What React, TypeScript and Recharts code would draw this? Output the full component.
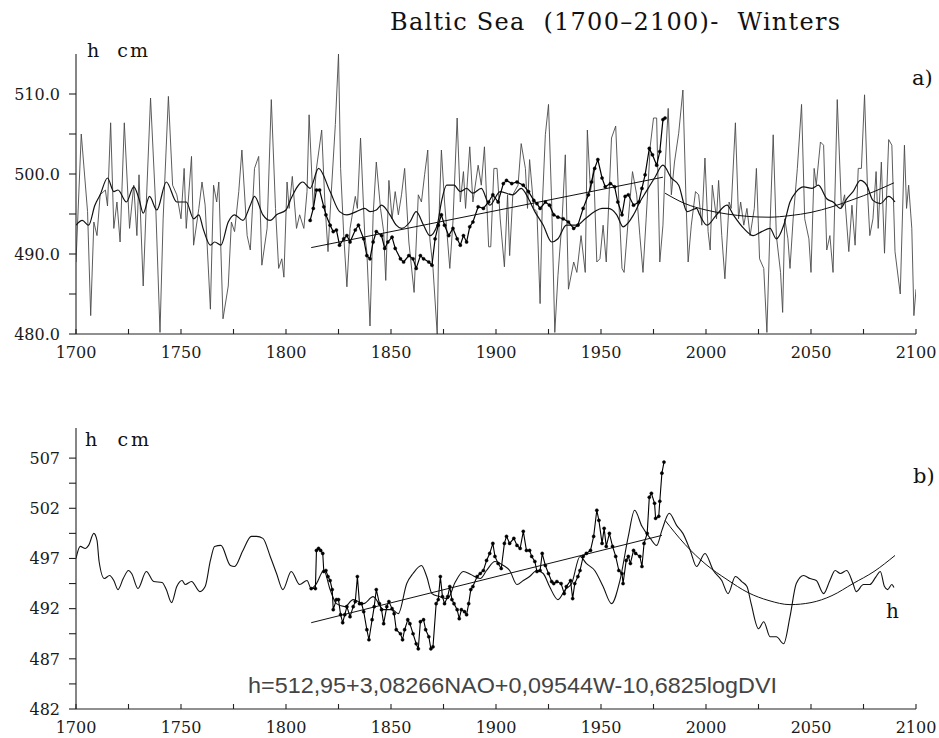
import React from 'react';
import { LineChart, Line, XAxis, YAxis } from 'recharts';

// x-axis years and tick labels
const yearTicks = [1700, 1725, 1750, 1775, 1800, 1825, 1850, 1875, 1900, 1925, 1950, 1975, 2000, 2025, 2050, 2075, 2100];
const hTicksA = [480, 485, 490, 495, 500, 505, 510];
const hTicksB = [482, 484.5, 487, 489.5, 492, 494.5, 497, 499.5, 502, 504.5, 507];

// panel a) - modelled winter sea level, yearly values [year, h cm]
const annualA = [
  [1700, 489], [1702.5, 505], [1705.5, 495.3], [1707, 482.3], [1708.5, 494], [1710, 492.3], [1711.5, 497.4], [1714, 498],
  [1715, 496], [1716.5, 506.4], [1718, 493.2], [1719.5, 496.5], [1721, 491.5], [1723, 506.4], [1725.5, 493.2], [1727.5, 498.6],
  [1729, 492.3], [1730, 499.9], [1732, 486], [1733.5, 496.5], [1735.5, 509.5], [1738, 495.7], [1740, 480.2], [1741.5, 494.4],
  [1744, 509.7], [1746, 498.6], [1748, 497.4], [1750, 494.4], [1751.5, 500.7], [1752.5, 493.2], [1755, 502.2], [1756, 491.1],
  [1758.5, 495.7], [1760, 499], [1761.5, 496.1], [1764, 483.1], [1765.5, 498.6], [1767, 496.5], [1768, 499], [1770, 481.9],
  [1772.5, 486], [1774, 494], [1775.5, 492.8], [1777.5, 497.8], [1779, 503], [1780.5, 496.5], [1781.5, 492.3], [1783, 490.5],
  [1785, 500.7], [1787, 502.2], [1788.5, 488.6], [1791, 493.2], [1793, 509.3], [1795, 495.7], [1796.5, 488.2], [1798, 489.4],
  [1799, 487.1], [1800.5, 499], [1801.5, 495.7], [1803, 499.7], [1805, 493.2], [1806.5, 494.9], [1808.5, 493.2], [1810, 497.8],
  [1811, 507.4], [1813, 495.7], [1814.5, 500.7], [1817, 505.5], [1818.5, 496.5], [1820, 490.3], [1821.5, 497.4], [1823.5, 506.2],
  [1825, 515], [1826, 500.7], [1827.5, 492.3], [1829, 485.9], [1830.5, 493.2], [1833, 497.2], [1834, 495.7], [1835.5, 504.5],
  [1837.5, 492.3], [1838.5, 490.3], [1840, 481], [1841.5, 494.9], [1843, 501.5], [1845, 495.7], [1846.5, 492.8], [1847.5, 486.7],
  [1849, 499.2], [1850.5, 494.4], [1852, 497.8], [1853.5, 494.9], [1855, 497.4], [1856.5, 500.7], [1858.5, 491.5], [1859.5, 489],
  [1861, 485.2], [1863, 497.4], [1864.5, 496.5], [1866, 499.9], [1867.5, 503], [1868.5, 491.9], [1870, 488.2], [1872, 480],
  [1873, 495.7], [1874, 503], [1875.5, 496.5], [1878, 488.2], [1879.5, 494], [1881.5, 507], [1883, 496.5], [1884.5, 500.3],
  [1885.5, 495.7], [1887.5, 503.4], [1889, 496.5], [1891.5, 501.1], [1893, 498.6], [1894.5, 503.4], [1896.5, 490.9], [1897.5, 490.9],
  [1899, 500.7], [1900.5, 500.7], [1902, 494.4], [1904, 488.4], [1905.5, 497.4], [1906.5, 489.8], [1908, 497.4], [1910.5, 498.6],
  [1912, 503.8], [1914, 500.7], [1915, 495.7], [1916, 501.8], [1918, 495.7], [1919.5, 495.3], [1921, 483.8], [1922, 495.7],
  [1923.5, 504.9], [1925, 508.7], [1926.5, 496.5], [1928, 480.2], [1929.5, 487.3], [1931.5, 494.4], [1933, 502.4], [1934.5, 485.6],
  [1937, 489], [1938.5, 487.7], [1940.5, 492.3], [1942.5, 487.7], [1943.5, 505.5], [1945, 497.8], [1946.5, 500.7], [1948, 489],
  [1949.5, 489.4], [1951, 493.6], [1952.5, 489], [1955, 504.5], [1957, 506], [1958.5, 496.5], [1960, 488.2], [1961, 487.7],
  [1963, 494.4], [1965, 500.3], [1967, 497.4], [1968.5, 492.3], [1970, 487.7], [1971.5, 494.4], [1973.5, 503.6], [1975, 507],
  [1976.5, 507], [1978, 489], [1979.5, 493.6], [1980.5, 500.7], [1982, 508.2], [1983.5, 497.4], [1985, 501.5], [1987, 505.1],
  [1989, 510.5], [1990.5, 496.5], [1991.5, 489], [1993, 493.6], [1995, 497.8], [1996.5, 497.4], [1998, 493.6], [1999.5, 502],
  [2001, 492.8], [2002, 490.5], [2003, 498.6], [2005, 494.4], [2006, 499.2], [2007.5, 492.3], [2009, 486.9], [2011, 496.5],
  [2012, 495.7], [2014, 506.4], [2015.5, 494.4], [2016.5, 496.5], [2018, 493.6], [2019.5, 495.7], [2021, 492.3], [2023, 495.7],
  [2024, 500.7], [2025.5, 489.4], [2027.5, 488.2], [2029, 480.2], [2030.5, 493.6], [2032, 504.9], [2033.5, 492.3], [2035.5, 487.7],
  [2036.5, 482.7], [2037.5, 494.4], [2039, 491.9], [2040, 488.2], [2041.5, 494.4], [2043.5, 500.7], [2045.5, 508.7], [2047, 494.4],
  [2049, 491.9], [2050, 487.7], [2051.5, 500.7], [2052.5, 498.6], [2054.5, 504], [2056, 503.6], [2057.5, 490.5], [2059, 492.3],
  [2060.5, 487.7], [2062.5, 509.3], [2064.5, 495.7], [2066, 497.4], [2068, 490.3], [2069.5, 496.1], [2071, 491.1], [2072.5, 500.7],
  [2074, 500.7], [2075.5, 509.9], [2077, 497.4], [2078, 492.3], [2079.5, 494.4], [2081, 500.3], [2082, 493.2], [2083.5, 501.5],
  [2085, 490.1], [2087, 504.3], [2088.5, 503.6], [2090, 490.3], [2092.5, 485], [2094.5, 503.6], [2095.5, 495.7], [2096.5, 498.6],
  [2098, 493.2], [2099, 482.3], [2100, 485.6],
];

// panel a) - smoothed model curve
const smoothA = [
  [1700, 493.6], [1703, 494.2], [1706, 493.6], [1709, 496.1], [1711.5, 497.4], [1715, 499.5], [1718, 497.8], [1720, 498],
  [1724, 496.5], [1727.5, 498.4], [1730, 496.9], [1732, 495.1], [1735, 497.2], [1738.5, 495.5], [1743, 499], [1748, 496.5],
  [1752.5, 496.5], [1756, 494.4], [1758.5, 494.9], [1760.5, 493.2], [1764, 491.1], [1766, 491.5], [1769, 491.1], [1772.5, 494],
  [1775.5, 494.9], [1779.5, 494.2], [1783, 496.1], [1785, 497.2], [1789, 494.9], [1792.5, 494.2], [1795.5, 494.9], [1800, 495.5],
  [1802, 496.7], [1808, 499], [1811.5, 498.2], [1815.5, 500.7], [1821, 497.8], [1825.5, 495.3], [1829, 494.9], [1833.5, 495.3],
  [1837.5, 495.7], [1840, 495.3], [1843, 495.5], [1845.5, 496.1], [1849.5, 494.9], [1852.5, 493.6], [1855, 493.2], [1859, 494],
  [1862, 495.3], [1865.5, 493.6], [1868.5, 492.3], [1872, 493.6], [1874, 496.5], [1876.5, 498.6], [1880, 498.6], [1883, 497.8],
  [1886, 498.2], [1889, 497.6], [1893, 498.2], [1897, 496.1], [1902, 497.8], [1908, 497.4], [1912, 498.2], [1915.5, 496.9],
  [1918.5, 495.3], [1922.5, 493.6], [1926.5, 491.5], [1929.5, 491.9], [1933.5, 493.6], [1938.5, 493.6], [1942.5, 494.4], [1947, 495.3],
  [1950.5, 495.7], [1953.5, 495.7], [1957.5, 494.9], [1960.5, 493.4], [1965.5, 494.9], [1968.5, 496.5], [1971.5, 497.8], [1975.5, 499.5],
  [1979.5, 501.1], [1983.5, 499.5], [1987, 498.6], [1991, 495.3], [1995.5, 495.7], [1997, 494.9], [2000.5, 493.6], [2005, 494.9],
  [2010, 496.1], [2013, 494.9], [2018, 493.2], [2022.5, 492.3], [2026.5, 492.8], [2030.5, 493.2], [2033.5, 491.9], [2037, 493.6],
  [2040, 496.5], [2043, 497.8], [2046.5, 498.4], [2050.5, 498.2], [2053.5, 498.6], [2057.5, 496.9], [2060.5, 496.5], [2064, 495.7],
  [2067, 496.9], [2070, 497.8], [2073.5, 499.2], [2076.5, 498.6], [2079.5, 496.7], [2083, 496.3], [2087, 497.2], [2090, 496.5],
];

// panel a) - observed series (dots)
const observedA = [
  [1811.5, 494.2], [1813, 495.7], [1814.5, 498], [1816, 498], [1818, 495.9], [1819, 494.9], [1821, 493.6], [1822.5, 492.8],
  [1824, 493], [1825.5, 491.1], [1827.5, 491.9], [1829, 492.3], [1830.5, 491.5], [1833, 493], [1834.5, 493.6], [1837, 491.9],
  [1838.5, 489.8], [1840, 489.4], [1841.5, 491.5], [1843, 492.8], [1845.5, 492.3], [1847, 490.7], [1848.5, 491.5], [1850.5, 492.1],
  [1852, 490.7], [1854.5, 489.4], [1856, 489], [1858.5, 489.8], [1860.5, 489.4], [1862, 488.2], [1864, 489.8], [1865.5, 489.4],
  [1868, 489], [1869.5, 488.6], [1871, 491.9], [1872.5, 493.6], [1874, 494.9], [1875.5, 493.6], [1877.5, 492.3], [1879.5, 493.2],
  [1881.5, 491.9], [1883, 491.1], [1884.5, 492.3], [1886, 491.5], [1887.5, 493.4], [1889, 494], [1891.5, 495.9], [1894, 495.7],
  [1896.5, 496.5], [1898.5, 497.4], [1901, 496.5], [1903.5, 498.8], [1905, 499.2], [1907.5, 498.8], [1910, 499], [1913, 498.6],
  [1915.5, 497.8], [1918, 496.7], [1919.5, 496.3], [1921, 495.7], [1923.5, 496.5], [1925.5, 496.1], [1927.5, 494.9], [1929.5, 494.6],
  [1932, 494.4], [1934.5, 494], [1937, 493.2], [1939, 493.6], [1941.5, 495.7], [1944, 497.4], [1945.5, 499], [1947, 500.7],
  [1948.5, 501.8], [1950.5, 499.5], [1952, 498.4], [1954.5, 498.8], [1956.5, 498.4], [1958, 496.5], [1960, 494.9], [1961.5, 497.2],
  [1963, 497.4], [1965.5, 496.1], [1968, 496.5], [1969.5, 498.2], [1971, 499.9], [1973, 503.2], [1974.5, 502.4], [1976.5, 501.1],
  [1978, 502.8], [1979.5, 506.8], [1980.5, 507],
];

const trendA = [[1812, 490.8], [1979.5, 499.6]];
const scenarioA = [
  [1980.5, 497.6], [1990, 496.3], [2000, 495.5], [2010, 495], [2020, 494.7], [2030, 494.6], [2040, 494.8],
  [2050, 495.2], [2060, 495.9], [2070, 496.8], [2080, 497.8], [2089.5, 498.9],
];

// panel b) - regression model curve
const modelB = [
  [1700, 497], [1702, 498.2], [1704.5, 498], [1706, 498.3], [1708.5, 499.5], [1710, 498.8], [1711, 496.7], [1713.5, 495],
  [1716, 495.3], [1718, 494.8], [1720, 493.9], [1722.5, 495], [1725, 495.8], [1726.5, 495.5], [1729.5, 494], [1733.5, 495.7],
  [1737, 494.7], [1741, 494.6], [1743, 493.9], [1745.5, 492.6], [1748, 494.2], [1750.5, 494.8], [1752, 494.4], [1755, 494.7],
  [1759, 493.7], [1761.5, 494.2], [1764, 496.8], [1766, 498.2], [1769, 498.3], [1773.5, 496.3], [1775.5, 496.2], [1779.5, 497.8],
  [1783.5, 499.2], [1786, 499.2], [1789, 499], [1792.5, 497.2], [1795.5, 495.5], [1798.5, 493.9], [1802.5, 495.7], [1806.5, 494.4],
  [1810, 494.8], [1812, 494], [1814.5, 494.5], [1818, 495.8], [1821, 493.9], [1824, 492.5], [1828, 492.2], [1832, 492.9],
  [1837, 492.5], [1841.5, 493.2], [1846.5, 491.9], [1850.5, 491.9], [1853.5, 491.5], [1857.5, 494.5], [1860.5, 495.5], [1864.5, 496.3],
  [1867, 495.2], [1869.5, 493.5], [1873, 493.2], [1877, 493], [1880.5, 494.6], [1884.5, 495.7], [1888, 495.4], [1892.5, 495],
  [1895.5, 495.8], [1899.5, 496.7], [1903.5, 496.3], [1906.5, 495.8], [1910, 494.4], [1913, 494.8], [1916, 495.2], [1919.5, 495.8],
  [1922.5, 495.5], [1925.5, 494.2], [1929.5, 492.9], [1933, 493.9], [1936, 494.5], [1940, 497.2], [1943, 496.5], [1947, 495.8],
  [1951, 494.2], [1955, 492.5], [1959, 494.8], [1963, 499.2], [1966, 501.8], [1969.5, 500.2], [1973.5, 499], [1976.5, 498.3],
  [1979, 499.8], [1982.5, 501.5], [1986, 500.3], [1989, 499.5], [1992.5, 497.8], [1995.5, 496.2], [1999.5, 497.5], [2003.5, 495.8],
  [2007.5, 494.8], [2010.5, 493.5], [2014, 495.2], [2017, 494.7], [2019.5, 494.2], [2021.5, 492.5], [2025, 490], [2027.5, 490.7],
  [2030.5, 489.2], [2033.5, 489.2], [2037, 488.5], [2040, 491.2], [2043, 494.5], [2046.5, 495.3], [2049.5, 495], [2052.5, 494.8],
  [2056, 493.5], [2059, 494.8], [2061.5, 495.8], [2064, 495.5], [2067, 495.8], [2070, 494.5], [2071.5, 493.7], [2075, 494.4],
  [2078, 494.4], [2081, 495.2], [2083, 495.7], [2085, 494.2], [2086.5, 493.9], [2088.5, 494.4], [2089.5, 494.1],
];

// panel b) - observed series (dots)
const observedB = [
  [1812, 494], [1814, 494], [1814.5, 497.8], [1815.5, 498], [1816.5, 497.8], [1817.5, 497.5], [1818, 495.7], [1819, 495.8],
  [1820, 495.2], [1821, 494.8], [1822, 493.9], [1822.5, 491.9], [1824, 492.9], [1825, 492.9], [1826, 491.4], [1827, 490.6],
  [1828, 491.4], [1829, 492.2], [1830.5, 491.2], [1832, 492.2], [1833, 492.7], [1834, 495.2], [1835, 492.5], [1836, 492.5],
  [1837, 491.7], [1838.5, 489.9], [1839.5, 488.9], [1841, 490.9], [1842, 492.2], [1843, 493.9], [1844.5, 492.5], [1845.5, 491.9],
  [1846.5, 490.5], [1848, 492.2], [1849, 492.7], [1850.5, 492], [1851.5, 491.5], [1852.5, 489.9], [1854.5, 489.5], [1855.5, 488.9],
  [1856.5, 489.9], [1858, 490.9], [1859, 490.5], [1860.5, 489.5], [1862, 488.5], [1863, 488], [1864, 490.7], [1865.5, 490.9],
  [1866.5, 489.9], [1868, 489.2], [1869, 488], [1870, 488.2], [1871.5, 492.5], [1872.5, 492.9], [1873.5, 495.2], [1874.5, 493.2],
  [1875.5, 492.5], [1877, 493.2], [1878, 494.2], [1879, 492.9], [1880, 492.5], [1881.5, 491.9], [1882.5, 491], [1883.5, 491.9],
  [1885, 491.7], [1886, 491.4], [1887, 492.5], [1888, 493.9], [1889, 494.2], [1891, 495.2], [1892.5, 495.5], [1894, 495.8],
  [1895.5, 496.8], [1897, 497.5], [1898.5, 498.5], [1899.5, 497.2], [1901, 496.5], [1902.5, 496], [1904, 498.5], [1905, 499.2],
  [1906.5, 498.5], [1908.5, 499], [1910, 498.3], [1911.5, 498], [1913, 499.7], [1914.5, 497.8], [1916, 497.8], [1917, 497.2],
  [1918.5, 496.7], [1919.5, 495.7], [1921, 495.8], [1922, 497.5], [1923.5, 496.3], [1925, 495.5], [1926.5, 494.7], [1927.5, 494.5],
  [1929, 494.7], [1931, 494.5], [1932.5, 493.5], [1933.5, 494.2], [1935.5, 494.8], [1936.5, 493], [1937.5, 494.5], [1939, 495.2],
  [1940, 495.8], [1941.5, 497.2], [1943, 497.5], [1945, 497.8], [1946.5, 499.2], [1948, 501.8], [1949, 500.8], [1950.5, 498.5],
  [1951.5, 500], [1952.5, 498.2], [1954, 499.5], [1955.5, 498.2], [1957, 497.2], [1958.5, 495.8], [1960, 495.5], [1960.5, 494.5],
  [1962, 496.8], [1963, 497.2], [1964, 496.5], [1965.5, 497.8], [1966.5, 497.5], [1968.5, 497.2], [1969.5, 496.2], [1970.5, 498.5],
  [1972, 499.5], [1973, 503.1], [1974, 503.5], [1975.5, 502.5], [1976, 501], [1977.5, 501.2], [1978, 502.7], [1979, 505.5],
  [1980, 506.6],
];

const trendB = [[1812, 490.6], [1979, 499.3]];
const scenarioB = [
  [1980.5, 500.8], [1990, 498.4], [2000, 496.4], [2010, 494.9], [2020, 493.6], [2030, 492.8], [2040, 492.4],
  [2050, 492.6], [2060, 493.3], [2070, 494.5], [2080, 495.7], [2090, 497.3],
];

const toRows = (pts: number[][]) => pts.map(([year, h]) => ({ year, h }));

const serif = 'DejaVu Serif';
const axisLine = { stroke: '#222', strokeWidth: 1.1 };
const tickStyle = { fontFamily: serif, fontSize: 16, fill: '#1a1a1a' };

const yearLabel = (v: number) => (v % 50 === 0 ? String(v) : '');

const dotStyle = { r: 1.6, fill: '#000', stroke: '#000', strokeWidth: 0.4 };

const App: React.FC = () => {
  return (
    <div style={{ position: 'absolute', left: 0, top: 0, width: 939, height: 738, background: '#fff' }}>
      <div style={{ position: 'absolute', left: 0, top: 0 }}>
        <LineChart width={939} height={365} margin={{ top: 54, right: 23, bottom: 5, left: 0 }}>
          <XAxis
            dataKey="year"
            type="number"
            domain={[1700, 2100]}
            ticks={yearTicks}
            tickFormatter={yearLabel}
            allowDataOverflow
            height={26}
            axisLine={axisLine}
            tickLine={axisLine}
            tickSize={-5}
            tickMargin={18}
            tick={tickStyle}
          />
          <YAxis
            type="number"
            domain={[480, 515]}
            ticks={hTicksA}
            tickFormatter={(v: number) => (v % 10 === 0 ? v.toFixed(1) : '')}
            allowDataOverflow
            width={76}
            axisLine={axisLine}
            tickLine={axisLine}
            tickSize={7}
            tickMargin={9}
            tick={tickStyle}
          />
          <Line data={toRows(annualA)} dataKey="h" type="linear" stroke="#4a4a4a" strokeWidth={0.9} dot={false} isAnimationActive={false} />
          <Line data={toRows(smoothA)} dataKey="h" type="monotone" stroke="#111" strokeWidth={1.2} dot={false} isAnimationActive={false} />
          <Line data={toRows(observedA)} dataKey="h" type="linear" stroke="#000" strokeWidth={1.2} dot={dotStyle} isAnimationActive={false} />
          <Line data={toRows(trendA)} dataKey="h" type="linear" stroke="#111" strokeWidth={1} dot={false} isAnimationActive={false} />
          <Line data={toRows(scenarioA)} dataKey="h" type="monotone" stroke="#111" strokeWidth={1} dot={false} isAnimationActive={false} />
        </LineChart>
      </div>

      <div style={{ position: 'absolute', left: 0, top: 400 }}>
        <LineChart width={939} height={338} margin={{ top: 28, right: 23, bottom: 3, left: 0 }}>
          <XAxis
            dataKey="year"
            type="number"
            domain={[1700, 2100]}
            ticks={yearTicks}
            tickFormatter={yearLabel}
            allowDataOverflow
            height={26}
            axisLine={axisLine}
            tickLine={axisLine}
            tickSize={-5}
            tickMargin={18}
            tick={tickStyle}
          />
          <YAxis
            type="number"
            domain={[482, 510]}
            ticks={hTicksB}
            tickFormatter={(v: number) => (Number.isInteger(v) ? String(v) : '')}
            allowDataOverflow
            width={76}
            axisLine={axisLine}
            tickLine={axisLine}
            tickSize={7}
            tickMargin={9}
            tick={tickStyle}
          />
          <Line data={toRows(modelB)} dataKey="h" type="monotone" stroke="#111" strokeWidth={1.1} dot={false} isAnimationActive={false} />
          <Line data={toRows(observedB)} dataKey="h" type="linear" stroke="#000" strokeWidth={1.1} dot={dotStyle} isAnimationActive={false} />
          <Line data={toRows(trendB)} dataKey="h" type="linear" stroke="#111" strokeWidth={1} dot={false} isAnimationActive={false} />
          <Line data={toRows(scenarioB)} dataKey="h" type="monotone" stroke="#111" strokeWidth={1} dot={false} isAnimationActive={false} />
        </LineChart>
      </div>

      <svg width={939} height={738} style={{ position: 'absolute', left: 0, top: 0, pointerEvents: 'none' }}>
        <text x={390} y={30} fontFamily={serif} fontSize={24} fill="#111" textLength={450} lengthAdjust="spacing" xmlSpace="preserve">
          Baltic Sea  (1700–2100)-  Winters
        </text>
        <text x={87} y={57} fontFamily={serif} fontSize={19} fill="#111" textLength={61} lengthAdjust="spacing" xmlSpace="preserve">
          h  cm
        </text>
        <text x={912} y={85} fontFamily={serif} fontSize={21} fill="#111">a)</text>
        <text x={85} y={446} fontFamily={serif} fontSize={19} fill="#111" textLength={64} lengthAdjust="spacing" xmlSpace="preserve">
          h  cm
        </text>
        <text x={913} y={483} fontFamily={serif} fontSize={21} fill="#111">b)</text>
        <text x={886} y={618} fontFamily={serif} fontSize={20} fill="#111">h</text>
        <text x={248} y={693} fontFamily="Liberation Sans" fontSize={22} fill="#444" textLength={529} lengthAdjust="spacingAndGlyphs">
          h=512,95+3,08266NAO+0,09544W-10,6825logDVI
        </text>
      </svg>
    </div>
  );
};

export default App;
